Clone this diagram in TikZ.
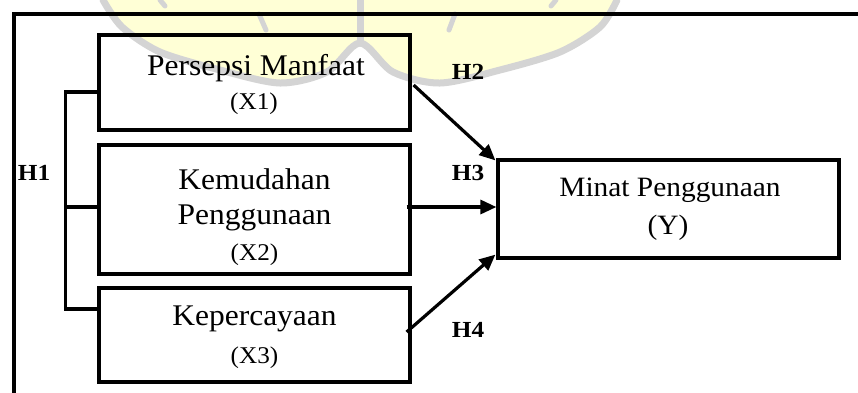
\documentclass[tikz,border=0pt]{standalone}
\usepackage{fontspec}
\setmainfont{Liberation Serif}
\usetikzlibrary{arrows.meta,calc}
\definecolor{wmyellow}{RGB}{255,255,214}
\definecolor{wmgray}{RGB}{212,212,212}
\begin{document}
\begin{tikzpicture}[x=1pt,y=-1pt,
  box/.style={draw,line width=3.2pt,rectangle,inner sep=0pt,minimum width=311pt},
  txt/.style={inner sep=0pt,anchor=center,xscale=1.05},
  big/.style={font=\fontsize{30}{36}\selectfont},
  mid/.style={font=\fontsize{28}{34}\selectfont},
  small/.style={font=\fontsize{24}{30}\selectfont},
  hyp/.style={inner sep=0pt,xscale=1.1,font=\fontsize{23}{28}\selectfont\bfseries},
  conn/.style={line width=3.2pt},
  wm/.style={draw=wmgray,line width=7pt,line cap=round},
  arr/.style={line width=3.2pt,-{Triangle[length=16pt,width=14pt]}}]
\useasboundingbox (0,0) rectangle (858,392);
\fill[white] (0,0) rectangle (858,392);
% faint watermark (logo remnant)
\fill[wmyellow] (103,-5) -- plot[smooth] coordinates {(103,0) (122,27) (160,52) (220,70) (280,83) (327,72) (360,43) (393,72) (440,83) (500,70) (560,52) (600,27) (617,0)} -- (617,-5) -- cycle;
\draw[wm] plot[smooth] coordinates {(103,0) (122,27) (160,52) (220,70) (280,83) (327,72) (360,43) (393,72) (440,83) (500,70) (560,52) (600,27) (617,0)};
\draw[wm] (360,0) -- (360,43);
\draw[wm,line width=5pt] (160,0) -- (165,6);
\draw[wm,line width=5pt] (259,14) -- (266,30);
\draw[wm,line width=5pt] (455,14) -- (449,30);
\draw[wm,line width=5pt] (556,0) -- (551,6);
% outer frame (only top and left visible)
\coordinate (fbl) at (14,393);
\coordinate (ftl) at (14,14);
\coordinate (ftr) at (859,14);
\draw[line width=3.2pt,line join=miter] (fbl) -- (ftl) -- (ftr);
% boxes
\node[box,minimum height=95pt] (b1) at (254.5,82.5) {};
\node[box,minimum height=129pt] (b2) at (254.5,209.5) {};
\node[box,minimum height=94pt] (b3) at (254.5,335) {};
\node[box,minimum width=341pt,minimum height=98pt] (by) at (668.5,209) {};
% texts
\node[txt,big] (t1a) at (256,68) {Persepsi Manfaat};
\node[txt,small] (t1b) at (254,104) {(X1)};
\node[txt,big] (t2a) at (254.5,179) {Kemudahan};
\node[txt,big] (t2b) at (254.5,218) {Penggunaan};
\node[txt,small] (t2c) at (254.5,255) {(X2)};
\node[txt,big] (t3a) at (254.5,319) {Kepercayaan};
\node[txt,small] (t3b) at (254.5,358) {(X3)};
\node[txt,mid] (tya) at (670,190) {Minat Penggunaan};
\node[txt,mid] (tyb) at (668,228) {(Y)};
% hypothesis labels
\node[hyp] (h1) at (34,173) {H1};
\node[hyp] (h2) at (468,72) {H2};
\node[hyp] (h3) at (468,173) {H3};
\node[hyp] (h4) at (468,330) {H4};
% bracket H1
\draw[conn,line join=miter] ([yshift=-9.5pt]b1.west) -- ++(-32,0) |- ([yshift=26pt]b3.west);
\draw[conn] ([yshift=2.5pt]b2.west) -- ++(-32,0);
% arrows
\draw[arr] ([shift={(2,2.5)}]b1.east) -- ([shift={(-1,2)}]by.north west);
\coordinate (s3) at ([shift={(-5,-2.5)}]b2.east);
\draw[arr] (s3) -- (s3 -| by.west);
\draw[arr] ([shift={(-5,-3)}]b3.east) -- ([shift={(-1,-5)}]by.south west);
\end{tikzpicture}
\end{document}
